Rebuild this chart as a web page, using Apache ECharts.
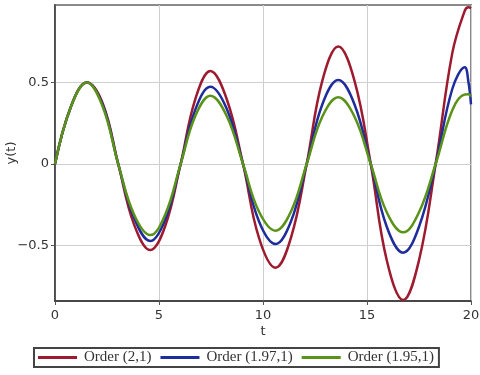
<!DOCTYPE html>
<html>
<head>
<meta charset="utf-8">
<script src="https://cdn.jsdelivr.net/npm/echarts@6/dist/echarts.min.js"></script>
<style>
    html, body { margin: 0; padding: 0; background: #fff; }
    #chart { width: 480px; height: 375px; }
</style>
</head>
<body>
<div id="chart"></div>
<script>
// sample times (zeros, quarter points, peaks)
const tValues = [0, 0.76, 1.53, 2.3, 3.04, 3.8, 4.58, 5.3, 6.04, 6.75, 7.47, 8.25, 9.04, 9.8, 10.6, 11.35,
    12.1, 12.85, 13.62, 14.4, 15.18, 15.95, 16.74, 17.5, 18.3, 19.1, 19.7, 19.88, 20]
const order21 = [0, 0.35, 0.50, 0.37, 0, -0.37, -0.528, -0.38, 0, 0.40, 0.57, 0.40, 0, -0.45, -0.636, -0.45,
    0, 0.51, 0.72, 0.51, 0, -0.59, -0.834, -0.59, 0, 0.68, 0.94, 0.961, 0.955]
const order197 = [0, 0.35, 0.50, 0.36, 0, -0.33, -0.472, -0.34, 0, 0.335, 0.474, 0.34, 0, -0.35, -0.491, -0.35,
    0, 0.365, 0.515, 0.365, 0, -0.385, -0.544, -0.385, 0, 0.46, 0.593, 0.50, 0.366]
const order195 = [0, 0.35, 0.50, 0.35, 0, -0.31, -0.436, -0.31, 0, 0.296, 0.419, 0.296, 0, -0.29, -0.409, -0.29,
    0, 0.29, 0.409, 0.29, 0, -0.296, -0.419, -0.296, 0, 0.33, 0.426, 0.427, 0.413]
const seriesNames = ['Order (2,1)', 'Order (1.97,1)', 'Order (1.95,1)']
const colorList = ['#9c1b2e', '#1e2c9c', '#5a9317']
const xTicks = [0, 5, 10, 15, 20]
const yTicks = [-0.5, 0, 0.5]
const yRange = [-0.84, 0.975]

const toPairs = vals => tValues.map((t, i) => [t, vals[i]])
const labelFont = 'DejaVu Sans'

const chart = echarts.init(document.getElementById('chart'))
chart.setOption({
    animation: false,
    color: colorList,
    grid: {
        left: 55,
        right: 9,
        top: 5,
        bottom: 74,
        outerBoundsMode: 'none',
        containLabel: false,
        show: true,
        borderColor: '#8a8a8a',
        borderWidth: 2
    },
    legend: {
        left: 34,
        top: 348,
        padding: [2, 5, 2, 4],
        itemGap: 9,
        itemWidth: 39,
        itemHeight: 3,
        icon: 'rect',
        borderColor: '#444',
        borderWidth: 2,
        textStyle: {
            fontFamily: 'Liberation Serif',
            fontSize: 15,
            color: '#333',
            padding: [0, 0, 0, 2]
        },
        data: seriesNames
    },
    xAxis: {
        type: 'value',
        min: xTicks[0],
        max: xTicks[xTicks.length - 1],
        interval: 5,
        name: 't',
        nameLocation: 'middle',
        nameGap: 24,
        nameMoveOverlap: false,
        nameTextStyle: { fontFamily: labelFont, fontSize: 13, color: '#333' },
        axisLine: { onZero: false, lineStyle: { color: '#333', width: 1.5 } },
        axisTick: { show: true, length: 4, lineStyle: { color: '#555' } },
        axisLabel: { fontFamily: labelFont, fontSize: 13, color: '#333', margin: 8 },
        splitLine: { lineStyle: { color: '#cfcfcf', width: 1 } }
    },
    yAxis: {
        type: 'value',
        min: yRange[0],
        max: yRange[1],
        name: 'y(t)',
        nameLocation: 'middle',
        nameGap: 37,
        nameMoveOverlap: false,
        nameTextStyle: { fontFamily: labelFont, fontSize: 13, color: '#333' },
        axisLine: { show: true, onZero: false, lineStyle: { color: '#333', width: 1.5 } },
        axisTick: { show: true, length: 4, customValues: yTicks, lineStyle: { color: '#555' } },
        axisLabel: {
            fontFamily: labelFont,
            fontSize: 13,
            color: '#333',
            margin: 6,
            customValues: yTicks,
            formatter: v => String(v).replace('-', '\u2212')
        },
        splitLine: { lineStyle: { color: '#cfcfcf', width: 1 } }
    },
    series: [order21, order197, order195].map((vals, i) => ({
        name: seriesNames[i],
        type: 'line',
        data: toPairs(vals),
        smooth: 0.4,
        showSymbol: false,
        symbol: 'none',
        lineStyle: { width: 2.5, color: colorList[i] }
    }))
})
</script>
</body>
</html>
